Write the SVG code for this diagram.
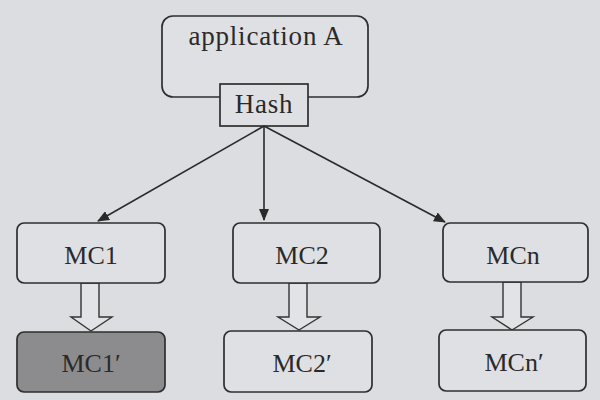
<svg xmlns="http://www.w3.org/2000/svg" width="600" height="400" viewBox="0 0 600 400">
<defs>
<style>
.box{fill:#dfe0e3;stroke:#2e2e2e;stroke-width:1.7}
.t{font-family:"Liberation Serif","DejaVu Serif",serif;font-size:26px;fill:#2a2a2a;text-anchor:middle}
.big{font-size:27px;letter-spacing:0.8px}
.edge{stroke:#2a2a2a;stroke-width:1.6;fill:none}
.hollow{fill:#e2e3e6;stroke:#333;stroke-width:1.4}
</style>
<marker id="ah" viewBox="0 0 12 10" refX="11" refY="5" markerWidth="12" markerHeight="10" markerUnits="userSpaceOnUse" orient="auto">
<path d="M0,0 L12,5 L0,10 Z" fill="#2a2a2a"/>
</marker>
</defs>
<rect width="600" height="400" fill="#dcdde0"/>
<g id="appA">
<rect class="box" x="162" y="16" width="206" height="81" rx="11"/>
<text class="t big" x="266" y="45">application A</text>
</g>
<g id="hash">
<rect class="box" x="220" y="84" width="88" height="42"/>
<text class="t big" x="264" y="113">Hash</text>
</g>
<g id="connectors">
<line class="edge" x1="264" y1="126" x2="98" y2="221" marker-end="url(#ah)"/>
<line class="edge" x1="264" y1="126" x2="264" y2="220" marker-end="url(#ah)"/>
<line class="edge" x1="264" y1="126" x2="445" y2="222" marker-end="url(#ah)"/>
<path class="hollow" d="M81,283 L99,283 L99,317 L112,317 L91,331 L71,317 L81,317 Z"/>
<path class="hollow" d="M289,283 L307,283 L307,317 L320,317 L299,330 L278,317 L289,317 Z"/>
<path class="hollow" d="M503,282 L521,282 L521,317 L533,317 L512,330 L492,317 L503,317 Z"/>
</g>
<g id="mc1">
<rect class="box" x="17" y="223" width="148" height="60" rx="7"/>
<text class="t" x="91" y="264">MC1</text>
</g>
<g id="mc2">
<rect class="box" x="233" y="223" width="147" height="60" rx="7"/>
<text class="t" x="302" y="264">MC2</text>
</g>
<g id="mcn">
<rect class="box" x="443" y="223" width="145" height="59" rx="7"/>
<text class="t" x="513" y="264">MCn</text>
</g>
<g id="mc1p">
<rect class="box" x="17" y="332" width="148" height="60" rx="7" style="fill:#8c8c8e"/>
<text class="t" x="91" y="372">MC1′</text>
</g>
<g id="mc2p">
<rect class="box" x="224" y="331" width="148" height="61" rx="7"/>
<text class="t" x="302" y="372">MC2′</text>
</g>
<g id="mcnp">
<rect class="box" x="439" y="330" width="147" height="61" rx="7"/>
<text class="t" x="514" y="371">MCn′</text>
</g>
</svg>
